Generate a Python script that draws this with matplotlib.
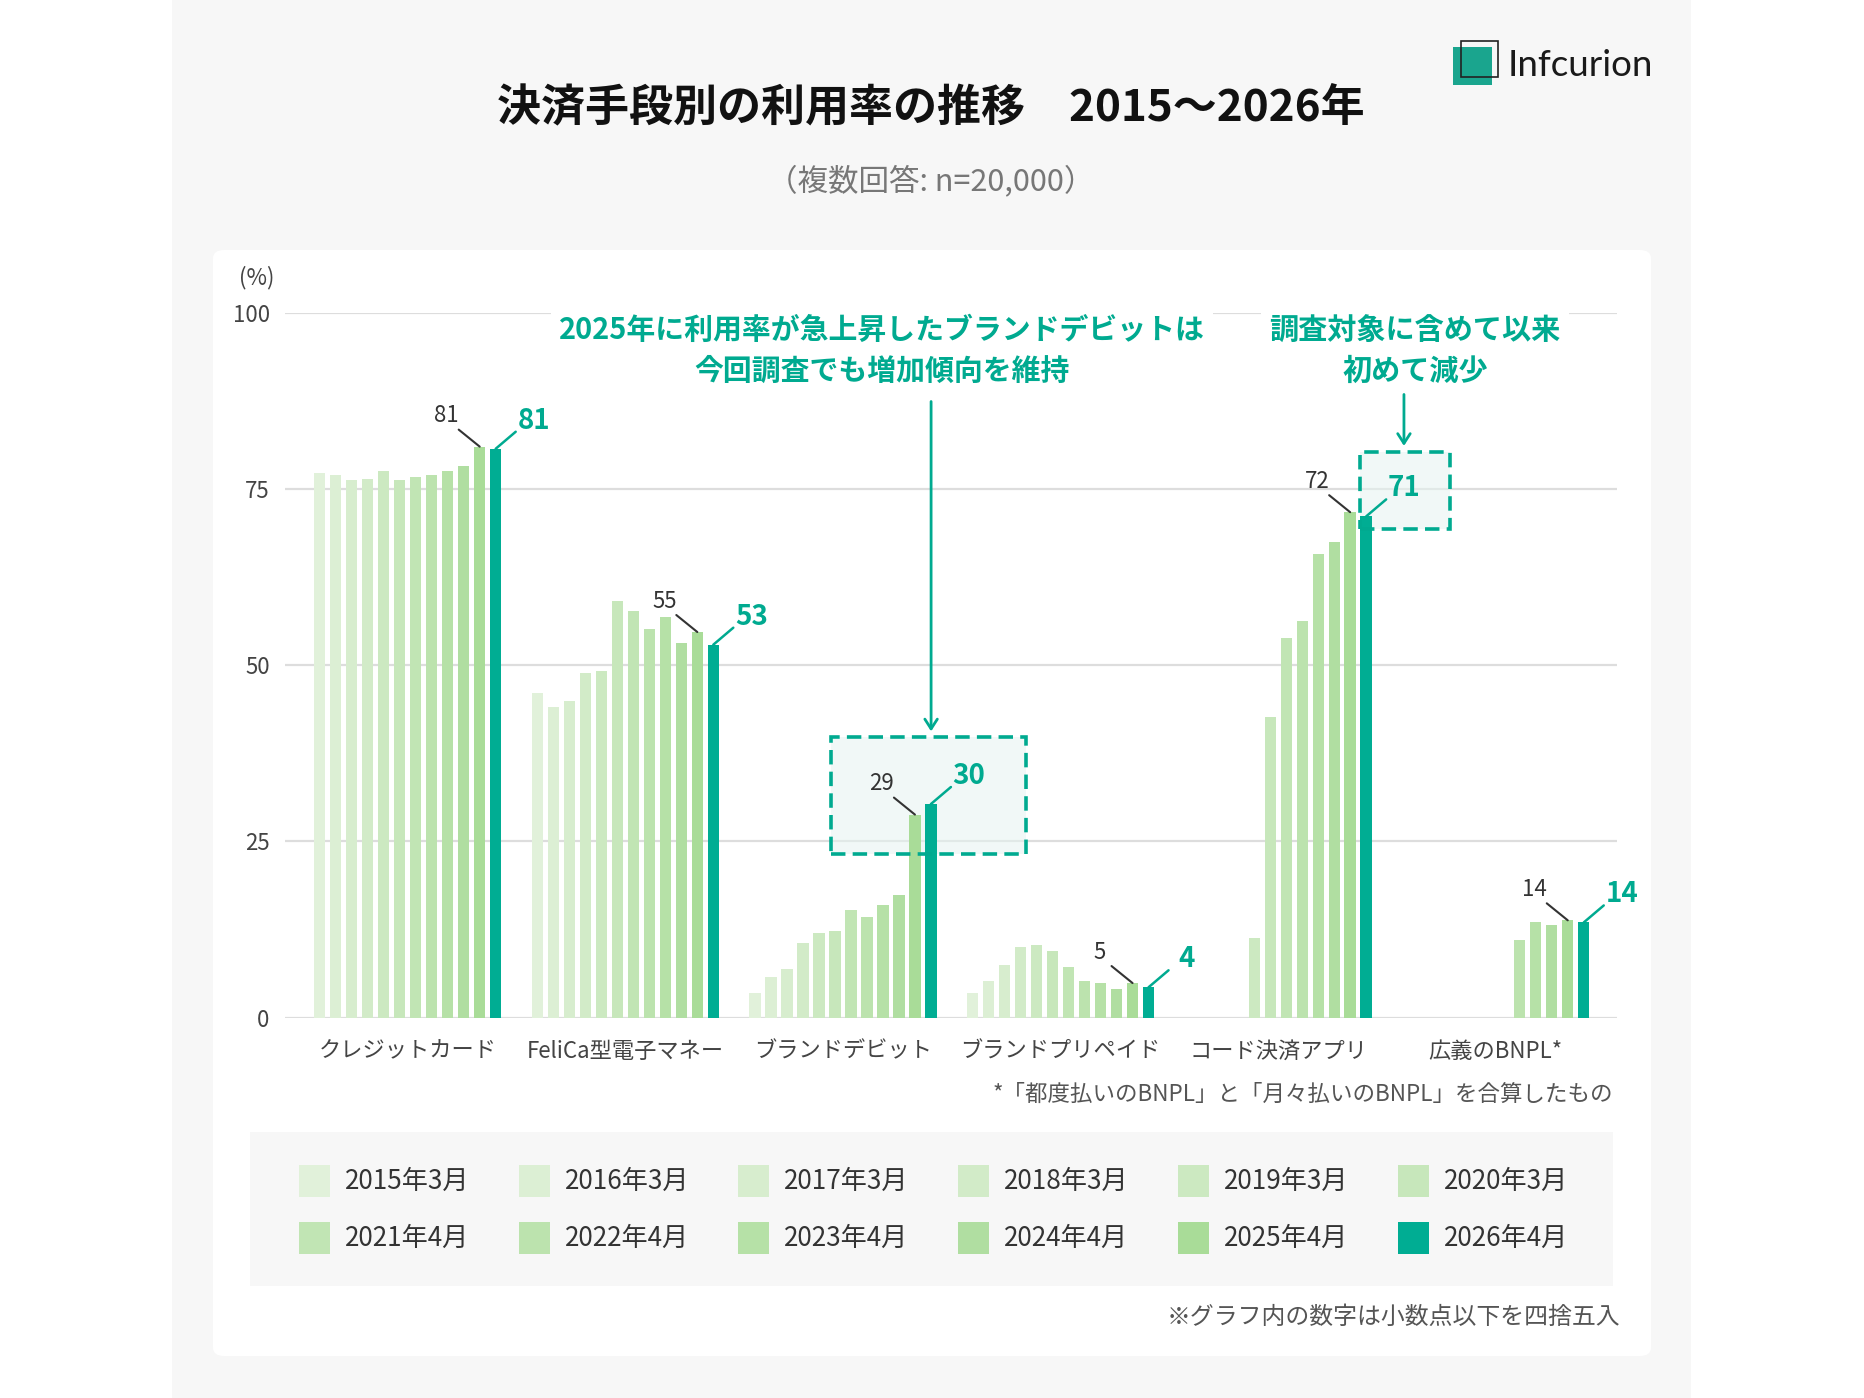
import matplotlib
matplotlib.use('Agg')
import matplotlib.pyplot as plt
from matplotlib.patches import Rectangle, FancyBboxPatch
import numpy as np

plt.rcParams['font.family'] = ['Noto Sans CJK JP', 'DejaVu Sans']

nan = np.nan
categories = ['クレジットカード', 'FeliCa型電子マネー', 'ブランドデビット',
              'ブランドプリペイド', 'コード決済アプリ', '広義のBNPL*']
periods = ['2015年3月', '2016年3月', '2017年3月', '2018年3月', '2019年3月', '2020年3月',
           '2021年4月', '2022年4月', '2023年4月', '2024年4月', '2025年4月', '2026年4月']
credit = [77.3, 77.0, 76.2, 76.4, 77.6, 76.2, 76.7, 77.0, 77.6, 78.2, 81.0, 80.7]
felica = [46.0, 44.0, 44.9, 48.9, 49.2, 59.1, 57.7, 55.1, 56.9, 53.2, 54.7, 52.9]
debit = [3.5, 5.7, 6.9, 10.6, 12.0, 12.3, 15.2, 14.3, 16.0, 17.4, 28.8, 30.3]
prepaid = [3.5, 5.2, 7.5, 10.0, 10.3, 9.5, 7.2, 5.2, 4.9, 4.0, 4.9, 4.3]
code = [nan, nan, nan, nan, 11.3, 42.6, 53.8, 56.3, 65.7, 67.4, 71.7, 71.1]
bnpl = [nan, nan, nan, nan, nan, nan, nan, 11.0, 13.6, 13.1, 13.8, 13.5]
series = [credit, felica, debit, prepaid, code, bnpl]
yticks = [0, 25, 50, 75, 100]

colors = ['#e1f1da', '#dcefd4', '#d7edce', '#d2ebc8', '#cce9c1', '#c7e7bb',
          '#c1e5b4', '#bce3ae', '#b6e1a7', '#b0dea1', '#a9dc98', '#00ad93']
TEAL = '#00aa90'

W, H = 1864, 1398
fig = plt.figure(figsize=(W / 100, H / 100), dpi=100, facecolor='white')


def fx(x):
    return x / W


def fy(y):
    return 1 - y / H


# background card and white panel
fig.add_artist(Rectangle((fx(172), 0), fx(1691) - fx(172), 1, transform=fig.transFigure,
                         facecolor='#f7f7f7', edgecolor='none', zorder=-3))
fig.add_artist(FancyBboxPatch((fx(213), fy(1356)), fx(1651) - fx(213), fy(250) - fy(1356),
                              boxstyle='round,pad=0,rounding_size=0.006',
                              transform=fig.transFigure, facecolor='white',
                              edgecolor='none', zorder=-2))
# legend box
fig.add_artist(Rectangle((fx(250), fy(1286)), fx(1613) - fx(250), fy(1132) - fy(1286),
                         transform=fig.transFigure, facecolor='#f7f7f7',
                         edgecolor='none', zorder=-1))

# title
fig.text(fx(931), fy(107), '決済手段別の利用率の推移\u30002015〜2026年', ha='center', va='center',
         fontsize=31.7, fontweight='bold', color='#111111')
fig.text(fx(931), fy(181), '（複数回答: n=20,000）', ha='center', va='center',
         fontsize=22, color='#777777')

# logo
fig.add_artist(Rectangle((fx(1453), fy(85)), fx(1492) - fx(1453), fy(47) - fy(85),
                         transform=fig.transFigure, facecolor='#1aa58e', edgecolor='none'))
fig.add_artist(Rectangle((fx(1461), fy(77)), fx(1498) - fx(1461), fy(41) - fy(77),
                         transform=fig.transFigure, facecolor='none', edgecolor='#222222',
                         lw=1.2))
fig.text(fx(1508), fy(65), 'Infcurion', ha='left', va='center', fontsize=26.5,
         family=['Lato', 'DejaVu Sans'], color='#1a1a1a')

# axes
ax = fig.add_axes([fx(285), fy(1017.6), fx(1617) - fx(285), fy(312.7) - fy(1017.6)])
ax.set_zorder(2)
ax.set_facecolor('none')
ax.set_xlim(-0.564, 5.557)
ax.set_ylim(0, 100)
for sp in ax.spines.values():
    sp.set_visible(False)
ax.set_yticks(yticks)
ax.set_yticklabels([str(t) for t in yticks])
ax.tick_params(axis='y', length=0, pad=11, labelsize=16, labelcolor='#444444')
ax.set_xticks(np.arange(len(categories)))
ax.set_xticklabels(categories)
ax.tick_params(axis='x', length=0, pad=16, labelsize=16, labelcolor='#444444')
ax.yaxis.grid(True, color='#dddddd', lw=1.6, zorder=0)
ax.set_axisbelow(True)

slot = 0.0735
bw = 0.052
x = np.arange(len(categories))
for i, (p, c) in enumerate(zip(periods, colors)):
    vals = np.array([s[i] for s in series], dtype=float)
    ax.bar(x + (i - 5.5) * slot, vals, width=bw, color=c, zorder=3, label=p)

# value labels for 2025 (grey) and 2026 (teal)
for j, s in enumerate(series):
    x25 = j + (10 - 5.5) * slot
    x26 = j + (11 - 5.5) * slot
    v25, v26 = s[10], s[11]
    ax.annotate('', xy=(x25, v25), xytext=(-21, 17), textcoords='offset pixels',
                arrowprops=dict(arrowstyle='-', color='#333333', lw=1.5,
                                shrinkA=0, shrinkB=0), zorder=5)
    ax.annotate(f'{int(v25 + 0.5)}', xy=(x25, v25), xytext=(-33, 31),
                textcoords='offset pixels', ha='center', va='center',
                fontsize=16, color='#333333', zorder=5)
    ax.annotate('', xy=(x26, v26), xytext=(20, 17), textcoords='offset pixels',
                arrowprops=dict(arrowstyle='-', color=TEAL, lw=1.8,
                                shrinkA=0, shrinkB=0), zorder=5)
    ax.annotate(f'{int(v26 + 0.5)}', xy=(x26, v26), xytext=(38, 28),
                textcoords='offset pixels', ha='center', va='center',
                fontsize=20, fontweight='bold', color=TEAL, zorder=5)

# highlight boxes
for (x0, x1, y0, y1) in [(1.945, 2.841, 23.2, 39.8), (4.376, 4.790, 69.3, 80.2)]:
    ax.add_patch(Rectangle((x0, y0), x1 - x0, y1 - y0, facecolor='#e6f4f1', alpha=0.55,
                           edgecolor='none', zorder=2, clip_on=False))
    ax.add_patch(Rectangle((x0, y0), x1 - x0, y1 - y0, facecolor='none', edgecolor=TEAL,
                           lw=2.6, linestyle=(0, (4, 2)), zorder=6, clip_on=False))

# callout texts and arrows
ax.text(2.18, 94.6, '2025年に利用率が急上昇したブランドデビットは\n今回調査でも増加傾向を維持',
        ha='center', va='center', fontsize=20.8, fontweight='bold', color=TEAL,
        linespacing=1.45, zorder=7, clip_on=False,
        bbox=dict(facecolor='white', edgecolor='none', pad=6))
ax.text(4.629, 94.6, '調査対象に含めて以来\n初めて減少',
        ha='center', va='center', fontsize=21, fontweight='bold', color=TEAL,
        linespacing=1.45, zorder=7, clip_on=False,
        bbox=dict(facecolor='white', edgecolor='none', pad=6))
ax.annotate('', xy=(2.405, 40.6), xytext=(2.405, 87.4),
            arrowprops=dict(arrowstyle='->,head_length=0.7,head_width=0.45', color=TEAL,
                            lw=2, shrinkA=0, shrinkB=0), zorder=7, annotation_clip=False)
ax.annotate('', xy=(4.578, 81.1), xytext=(4.578, 88.4),
            arrowprops=dict(arrowstyle='->,head_length=0.7,head_width=0.45', color=TEAL,
                            lw=2, shrinkA=0, shrinkB=0), zorder=7, annotation_clip=False)

# axis unit
fig.text(fx(257), fy(278), '(%)', ha='center', va='center', fontsize=16, color='#444444')

# footnotes
fig.text(fx(1613), fy(1094), '*「都度払いのBNPL」と「月々払いのBNPL」を合算したもの',
         ha='right', va='center', fontsize=16.2, color='#555555')
fig.text(fx(1620), fy(1317), '※グラフ内の数字は小数点以下を四捨五入',
         ha='right', va='center', fontsize=17.2, color='#555555')

# legend (manual grid)
for i, (p, c) in enumerate(zip(periods, colors)):
    col, row = i % 6, i // 6
    sx = 299 + col * 219.7
    cy = 1181 + row * 57
    fig.add_artist(Rectangle((fx(sx), fy(cy + 16)), fx(31), fy(0) - fy(32),
                             transform=fig.transFigure, facecolor=c, edgecolor='none',
                             zorder=1))
    fig.text(fx(sx + 46), fy(cy), p, ha='left', va='center', fontsize=18.8, color='#333333')

fig.savefig('out.png', dpi=100, facecolor='white')
